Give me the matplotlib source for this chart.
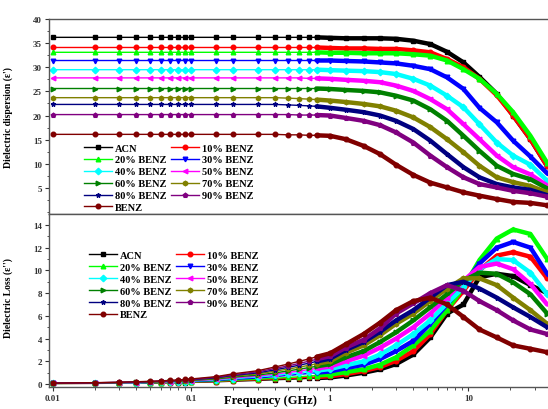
import numpy as np
import matplotlib.pyplot as plt
from matplotlib.ticker import MultipleLocator, LogLocator, NullFormatter

# frekuensi (GHz)
freq = [0.01, 0.02, 0.03, 0.04, 0.05, 0.06, 0.07, 0.08, 0.09, 0.1,
        0.15, 0.2, 0.3, 0.4, 0.5, 0.6, 0.7, 0.8,
        1.0, 1.3, 1.75, 2.3, 3.0, 4.0, 5.3, 7.0, 9.2, 12, 16, 21, 28, 37]

labels = ['ACN', '10% BENZ', '20% BENZ', '30% BENZ', '40% BENZ', '50% BENZ',
          '60% BENZ', '70% BENZ', '80% BENZ', '90% BENZ', 'BENZ']

# dielectric dispersion (eps')
disp_acn = [36.2, 36.2, 36.2, 36.2, 36.2, 36.2, 36.2, 36.2, 36.2, 36.2, 36.2, 36.2, 36.2, 36.2, 36.2, 36.2, 36.2, 36.2,
            36.1, 36.0, 36.0, 36.0, 35.9, 35.5, 34.8, 33.2, 31.0, 28.0, 24.5, 20.0, 15.1, 9.5]
disp_10 = [34.1, 34.1, 34.1, 34.1, 34.1, 34.1, 34.1, 34.1, 34.1, 34.1, 34.1, 34.1, 34.1, 34.1, 34.1, 34.1, 34.1, 34.1,
           34.0, 33.9, 33.9, 33.8, 33.8, 33.5, 33.1, 31.7, 30.0, 27.6, 24.2, 20.0, 15.1, 9.5]
disp_20 = [33.1, 33.1, 33.1, 33.1, 33.1, 33.1, 33.1, 33.1, 33.1, 33.1, 33.1, 33.1, 33.1, 33.1, 33.1, 33.1, 33.1, 33.1,
           33.0, 33.0, 32.9, 32.9, 32.9, 32.7, 32.4, 31.4, 29.6, 27.6, 24.5, 20.7, 15.8, 10.2]
disp_30 = [31.4, 31.4, 31.4, 31.4, 31.4, 31.4, 31.4, 31.4, 31.4, 31.4, 31.4, 31.4, 31.4, 31.4, 31.4, 31.4, 31.4, 31.4,
           31.4, 31.3, 31.2, 31.0, 30.8, 30.3, 29.6, 27.9, 25.5, 21.6, 18.6, 14.8, 11.5, 8.0]
disp_40 = [29.5, 29.5, 29.5, 29.5, 29.5, 29.5, 29.5, 29.5, 29.5, 29.5, 29.5, 29.5, 29.5, 29.5, 29.5, 29.5, 29.5, 29.5,
           29.4, 29.3, 29.2, 29.0, 28.6, 27.6, 26.2, 24.1, 21.7, 18.2, 14.4, 11.7, 9.8, 6.5]
disp_50 = [27.8, 27.8, 27.8, 27.8, 27.8, 27.8, 27.8, 27.8, 27.8, 27.8, 27.8, 27.8, 27.8, 27.8, 27.8, 27.8, 27.7, 27.7,
           27.6, 27.4, 27.2, 26.9, 26.2, 25.1, 23.4, 21.3, 18.2, 15.1, 11.7, 9.3, 7.8, 5.5]
disp_60 = [25.6, 25.6, 25.6, 25.6, 25.6, 25.6, 25.6, 25.6, 25.6, 25.6, 25.6, 25.6, 25.6, 25.6, 25.6, 25.6, 25.6, 25.6,
           25.5, 25.3, 25.1, 24.8, 24.1, 23.1, 21.3, 18.9, 15.8, 12.7, 9.6, 7.9, 6.8, 4.9]
disp_70 = [23.7, 23.7, 23.7, 23.7, 23.7, 23.7, 23.7, 23.7, 23.7, 23.7, 23.7, 23.7, 23.7, 23.7, 23.6, 23.5, 23.4, 23.3,
           23.1, 22.8, 22.4, 21.9, 21.0, 19.6, 17.6, 15.1, 12.4, 9.6, 7.2, 6.2, 5.4, 4.1]
disp_80 = [22.3, 22.3, 22.3, 22.3, 22.3, 22.3, 22.3, 22.3, 22.3, 22.3, 22.3, 22.3, 22.3, 22.3, 22.2, 22.1, 22.0, 21.9,
           21.6, 21.2, 20.7, 20.0, 18.9, 17.2, 14.8, 12.0, 9.3, 7.2, 5.8, 5.1, 4.6, 3.5]
disp_90 = [20.2, 20.2, 20.2, 20.2, 20.2, 20.2, 20.2, 20.2, 20.2, 20.2, 20.2, 20.2, 20.2, 20.2, 20.2, 20.1, 20.1, 20.1,
           20.0, 19.5, 18.9, 18.0, 16.5, 14.4, 11.7, 9.3, 7.2, 5.8, 5.1, 4.4, 3.9, 3.2]
disp_benz = [16.1, 16.1, 16.1, 16.1, 16.1, 16.1, 16.1, 16.1, 16.1, 16.1, 16.1, 16.1, 16.1, 16.1, 16.0, 16.0, 15.9, 15.9,
             15.8, 15.1, 13.7, 12.0, 9.8, 7.7, 6.1, 5.1, 4.1, 3.4, 2.7, 2.1, 1.9, 1.4]

# dielectric loss (eps'')
loss_acn = [0.05, 0.06, 0.07, 0.08, 0.09, 0.1, 0.11, 0.12, 0.13, 0.15, 0.2, 0.25, 0.32, 0.38, 0.42, 0.46, 0.5, 0.53,
            0.58, 0.75, 1.0, 1.3, 1.76, 2.6, 4.1, 6.2, 7.0, 9.4, 9.7, 9.5, 8.7, 8.0]
loss_10 = [0.05, 0.06, 0.07, 0.09, 0.1, 0.11, 0.12, 0.13, 0.14, 0.17, 0.22, 0.28, 0.36, 0.44, 0.49, 0.54, 0.59, 0.62,
           0.69, 0.88, 1.15, 1.5, 2.05, 2.9, 4.4, 6.5, 8.2, 10.0, 11.3, 11.6, 11.2, 9.3]
loss_20 = [0.05, 0.07, 0.08, 0.09, 0.11, 0.12, 0.14, 0.15, 0.16, 0.19, 0.25, 0.33, 0.42, 0.51, 0.58, 0.64, 0.7, 0.75,
           0.83, 1.05, 1.3, 1.7, 2.35, 3.4, 4.7, 6.5, 8.5, 10.9, 12.8, 13.6, 13.2, 11.0]
loss_30 = [0.06, 0.08, 0.09, 0.11, 0.13, 0.15, 0.16, 0.18, 0.2, 0.23, 0.31, 0.41, 0.53, 0.66, 0.76, 0.85, 0.93, 1.0,
           1.11, 1.4, 1.7, 2.2, 2.9, 3.8, 5.3, 7.0, 8.7, 10.6, 12.0, 12.5, 12.0, 9.7]
loss_40 = [0.06, 0.08, 0.1, 0.12, 0.14, 0.16, 0.18, 0.2, 0.22, 0.26, 0.36, 0.48, 0.62, 0.77, 0.89, 1.0, 1.1, 1.18,
           1.32, 1.65, 2.0, 2.6, 3.4, 4.4, 5.6, 7.1, 8.5, 10.1, 11.0, 10.9, 9.8, 7.9]
loss_50 = [0.06, 0.09, 0.11, 0.13, 0.16, 0.18, 0.2, 0.23, 0.25, 0.29, 0.4, 0.54, 0.7, 0.88, 1.02, 1.15, 1.27, 1.37,
           1.53, 2.0, 2.5, 3.2, 4.0, 5.0, 6.2, 7.6, 9.1, 10.3, 10.6, 10.1, 8.8, 7.0]
loss_60 = [0.07, 0.09, 0.12, 0.15, 0.17, 0.2, 0.23, 0.25, 0.28, 0.32, 0.45, 0.61, 0.79, 0.98, 1.16, 1.31, 1.44, 1.56,
           1.75, 2.35, 2.9, 3.7, 4.55, 5.6, 6.75, 7.9, 9.1, 9.8, 9.7, 8.95, 7.9, 6.2]
loss_70 = [0.07, 0.1, 0.13, 0.16, 0.19, 0.22, 0.25, 0.28, 0.31, 0.35, 0.5, 0.69, 0.89, 1.13, 1.32, 1.49, 1.64, 1.78,
           2.0, 2.75, 3.4, 4.3, 5.3, 6.2, 7.3, 8.4, 9.3, 9.3, 8.7, 7.6, 6.5, 5.3]
loss_80 = [0.07, 0.11, 0.14, 0.17, 0.21, 0.24, 0.27, 0.31, 0.34, 0.38, 0.55, 0.76, 0.98, 1.25, 1.47, 1.66, 1.83, 1.99,
           2.23, 3.0, 3.7, 4.6, 5.6, 6.5, 7.6, 8.7, 9.0, 8.4, 7.6, 6.75, 5.9, 5.0]
loss_90 = [0.08, 0.11, 0.15, 0.19, 0.22, 0.26, 0.29, 0.33, 0.37, 0.41, 0.6, 0.82, 1.07, 1.37, 1.6, 1.82, 2.0, 2.18,
           2.45, 3.2, 3.9, 4.9, 6.2, 7.1, 8.0, 8.7, 8.2, 7.3, 6.5, 5.6, 4.8, 4.4]
loss_benz = [0.08, 0.12, 0.16, 0.2, 0.24, 0.28, 0.32, 0.36, 0.4, 0.45, 0.65, 0.9, 1.17, 1.5, 1.76, 2.0, 2.2, 2.4,
             2.7, 3.5, 4.4, 5.4, 6.5, 7.3, 7.6, 7.0, 5.9, 4.8, 4.1, 3.4, 3.1, 2.8]

disp = [disp_acn, disp_10, disp_20, disp_30, disp_40, disp_50, disp_60, disp_70, disp_80, disp_90, disp_benz]
loss = [loss_acn, loss_10, loss_20, loss_30, loss_40, loss_50, loss_60, loss_70, loss_80, loss_90, loss_benz]

colors = ['black', 'red', '#00ff00', 'blue', 'cyan', 'magenta', '#008000', '#808000', '#000080', '#800080', '#800000']
markers = ['s', 'o', '^', 'v', 'D', '<', '>', 'h', '*', 'p', 'o']

plt.rcParams['font.family'] = 'Liberation Serif'
plt.rcParams['font.weight'] = 'bold'

fig = plt.figure(figsize=(5.48, 4.10), dpi=100)
ax1 = fig.add_axes([49/548, 1 - 215/410, 499/548, 195/410])
ax2 = fig.add_axes([49/548, 1 - 388/410, 499/548, 173/410])

for ax, data in [(ax1, disp), (ax2, loss)]:
    for y, c, m, lab in zip(data, colors, markers, labels):
        ax.plot(freq, y, color=c, marker=m, markersize=3.3, linewidth=1.0, label=lab)
        # bagian frekuensi tinggi: titik data rapat -> tampak seperti pita tebal
        ax.plot(freq[17:], y[17:], color=c, linewidth=3.2, solid_capstyle='round',
                solid_joinstyle='round')
    ax.set_xscale('log')
    ax.set_xlim(0.00936, 37.5)
    ax.spines['right'].set_visible(False)
    for s in ['top', 'left', 'bottom']:
        ax.spines[s].set_color('#555555')
        ax.spines[s].set_linewidth(1.0)
    ax.tick_params(axis='both', which='major', direction='out', length=3, width=0.8,
                   labelsize=6.5, colors='#333333', pad=2)
    ax.tick_params(axis='both', which='minor', direction='out', length=1.8, width=0.6, colors='#333333')

ax1.set_ylim(-0.4, 40)
ax1.yaxis.set_minor_locator(MultipleLocator(2.5))
ax1.set_yticks([5, 10, 15, 20, 25, 30, 35, 40])
ax1.tick_params(axis='x', which='both', bottom=False, labelbottom=False)

ax2.set_ylim(-0.26, 14.96)
ax2.set_yticks([0, 2, 4, 6, 8, 10, 12, 14])
ax2.yaxis.set_minor_locator(MultipleLocator(1))
ax2.xaxis.set_minor_locator(LogLocator(base=10, subs=np.arange(2, 10)))
ax2.xaxis.set_minor_formatter(NullFormatter())
ax2.set_xticks([0.01, 0.1, 1, 10])
ax2.set_xticklabels(['0.01', '0.1', '1', '10'])

ax1.set_ylabel("Dielectric dispersion (\u03b5')", fontsize=7, fontweight='bold')
ax1.yaxis.set_label_coords(-0.072, 0.5)
ax2.set_ylabel("Dielectric Loss (\u03b5'')", fontsize=7, fontweight='bold')
ax2.yaxis.set_label_coords(-0.072, 0.52)
fig.text(270/548, 1 - 401/410, 'Frequency (GHz)', ha='center', va='center', fontsize=9, fontweight='bold')

# legend: baris per baris (2 kolom)
order = [0, 2, 4, 6, 8, 10, 1, 3, 5, 7, 9]
for ax, loc in [(ax1, (0.055, 0.4)), (ax2, (0.065, 0.83))]:
    h, l = ax.get_legend_handles_labels()
    h = h[0::2] if len(h) > 11 else h
    ax.legend([h[i] for i in order], [labels[i] for i in order], ncol=2, frameon=False,
              loc='upper left', bbox_to_anchor=loc, handlelength=2.7,
              handletextpad=0.3, columnspacing=0.4, labelspacing=0.25, borderpad=0.2,
              prop={'weight': 'bold', 'size': 7.5})

plt.savefig('out.png', dpi=100)
